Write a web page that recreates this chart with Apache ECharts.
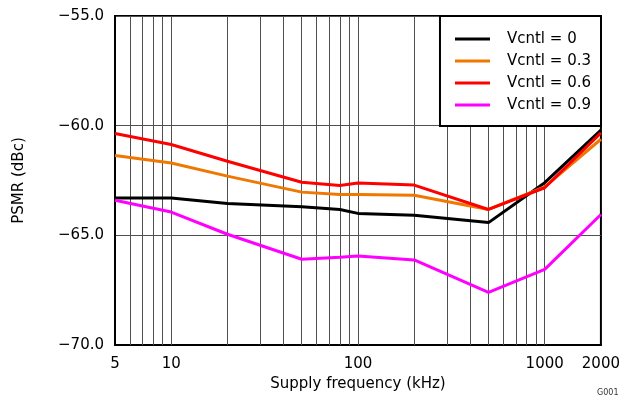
<!DOCTYPE html>
<html><head><meta charset="utf-8">
<script src="https://cdn.jsdelivr.net/npm/echarts@6/dist/echarts.min.js"></script>
<style>html,body{margin:0;padding:0;background:#fff}#c{width:623px;height:398px}</style>
</head><body><div id="c"></div>
<script>
const freqs = [5, 10, 20, 50, 80, 100, 200, 500, 1000, 2000];
const vc0 = [-63.3, -63.3, -63.55, -63.7, -63.82, -64.0, -64.08, -64.42, -62.6, -60.2];
const vc03 = [-61.36, -61.7, -62.3, -63.03, -63.14, -63.14, -63.17, -63.82, -62.79, -60.62];
const vc06 = [-60.36, -60.86, -61.62, -62.58, -62.73, -62.61, -62.71, -63.82, -62.83, -60.33];
const vc09 = [-63.4, -63.94, -64.95, -66.09, -66.0, -65.94, -66.12, -67.6, -66.55, -64.05];
const seriesNames = ['Vcntl = 0', 'Vcntl = 0.3', 'Vcntl = 0.6', 'Vcntl = 0.9'];
const seriesColors = ['#000000', '#F07800', '#FF0000', '#FF00FF'];
const gridFreqs = [6, 7, 8, 9, 10, 20, 30, 40, 50, 60, 70, 80, 90, 100, 200, 300, 400, 500, 600, 700, 800, 900, 1000];
const xTicks = [5, 10, 100, 1000, 2000];
const yTicks = [-70, -65, -60, -55];

const font = 'DejaVu Sans, Liberation Sans, sans-serif';
const allData = [vc0, vc03, vc06, vc09];
const legendIcon = 'path://M0,0L0,0M35,16L35,16M0,6.5L35,6.5L35,9.5L0,9.5Z';
const series = allData.map((d, i) => ({
  name: seriesNames[i], type: 'line', symbol: 'none', showSymbol: false,
  data: freqs.map((f, j) => [f, d[j]]),
  lineStyle: { color: seriesColors[i], width: 3 },
  itemStyle: { color: seriesColors[i] },
  z: 3
}));
series.unshift({
  name: 'grid', type: 'line', data: [], z: 1,
  markLine: {
    silent: true, symbol: 'none', animation: false, z: 1,
    label: { show: false },
    emphasis: { disabled: true },
    lineStyle: { color: '#505050', width: 1, type: 'solid' },
    data: gridFreqs.map(f => ({ xAxis: f }))
  }
});
const chart = echarts.init(document.getElementById('c'));
chart.setOption({
  animation: false,
  grid: { left: 115, right: 22, top: 16, bottom: 53, show: true, borderColor: '#000', borderWidth: 2, backgroundColor: 'transparent', z: 0 },
  xAxis: {
    type: 'log', logBase: 10, min: 5, max: 2000,
    name: 'Supply frequency (kHz)', nameLocation: 'middle', nameGap: 32,
    nameTextStyle: { fontFamily: font, fontSize: 15, color: '#000' },
    axisLine: { show: true, lineStyle: { color: '#000', width: 2 } },
    axisTick: { show: false },
    splitLine: { show: false },
    axisLabel: { fontFamily: font, fontSize: 15, color: '#000', margin: 12, showMinLabel: true, showMaxLabel: true,
      formatter: v => { const r = Math.round(v); return xTicks.indexOf(r) >= 0 ? String(r) : ''; } }
  },
  yAxis: {
    type: 'value', min: yTicks[0], max: yTicks[yTicks.length - 1], interval: 5,
    name: 'PSMR (dBc)', nameLocation: 'middle', nameGap: 88, nameRotate: 90,
    nameTextStyle: { fontFamily: font, fontSize: 15, color: '#000' },
    axisLine: { show: true, lineStyle: { color: '#000', width: 2 } },
    axisTick: { show: false },
    splitLine: { show: true, lineStyle: { color: '#505050', width: 1 } },
    axisLabel: { fontFamily: font, fontSize: 15, color: '#000', margin: 11, padding: [4, 0, 0, 0],
      formatter: v => (v < 0 ? '\u2212' : '') + Math.abs(v).toFixed(1) }
  },
  legend: {
    data: seriesNames.map(n => ({ name: n, icon: legendIcon })),
    orient: 'vertical', right: 22, top: 16, z: 20,
    backgroundColor: '#fff', borderColor: '#000', borderWidth: 2, borderRadius: 0,
    padding: [15, 10, 13, 15], itemGap: 6, itemWidth: 35, itemHeight: 16,
    textStyle: { fontFamily: font, fontSize: 15, color: '#000', padding: [0, 0, 0, 12] }
  },
  graphic: [{ type: 'text', left: 597, top: 389, style: { text: 'G001', font: '8px ' + font, fill: '#333' } }],
  series: series
});
</script></body></html>
